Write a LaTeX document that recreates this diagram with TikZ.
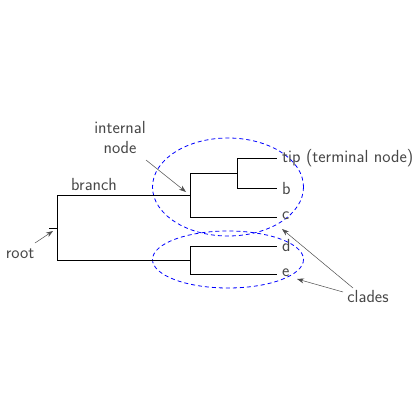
\documentclass[tikz,border=0pt]{standalone}
\usetikzlibrary{arrows.meta}
\begin{document}
\begin{tikzpicture}[x=1pt,y=-1pt,
  tree/.style={line width=1pt,black},
  lbl/.style={font=\fontsize{17.5}{20}\sffamily,text=black!72,inner sep=0pt},
  tiplbl/.style={lbl,anchor=west},
  clade/.style={draw=blue,line width=0.8pt,dash pattern=on 4pt off 3pt},
  pointer/.style={draw=black!70,line width=0.5pt,-{Stealth[length=7pt,width=5pt]}}]
\useasboundingbox (0,0) rectangle (420,420);
% tree coordinates
\coordinate (rootstub) at (49,228);
\coordinate (r) at (57,228);
\coordinate (rt) at (57,195);
\coordinate (rb) at (57,260);
\coordinate (n1) at (190,195);
\coordinate (n2) at (190,260);
\coordinate (n1t) at (190,173);
\coordinate (n1b) at (190,217);
\coordinate (n3) at (237,173);
\coordinate (n3t) at (237,158);
\coordinate (n3b) at (237,188);
\coordinate (n2t) at (190,246);
\coordinate (n2b) at (190,274);
\coordinate (ta) at (277,158);
\coordinate (tb) at (277,188);
\coordinate (tc) at (277,217);
\coordinate (td) at (277,246);
\coordinate (te) at (277,274);
% clades
\draw[clade] (228,187) ellipse [x radius=75.5, y radius=49];
\draw[clade] (228,259.5) ellipse [x radius=75.5, y radius=28.5];
% tree
\draw[tree] (rootstub) -- (r);
\draw[tree] (n1) -- (rt) -- (rb) -- (n2);
\draw[tree] (n1t) -- (n1b);
\draw[tree] (n1t) -- (n3);
\draw[tree] (n1b) -- (tc);
\draw[tree] (n3t) -- (n3b);
\draw[tree] (n3t) -- (ta);
\draw[tree] (n3b) -- (tb);
\draw[tree] (n2t) -- (n2b);
\draw[tree] (n2t) -- (td);
\draw[tree] (n2b) -- (te);
% labels
\node[tiplbl] (la) at (282,158) {tip (terminal node)};
\node[tiplbl] (lb) at (282,188) {b};
\node[tiplbl] (lc) at (282,216) {c};
\node[tiplbl] (ld) at (282,245) {d};
\node[tiplbl] (le) at (282,273) {e};
\node[lbl] (branch) at (94,184) {branch};
\node[lbl,align=center] (internal) at (120,137) {internal\\node};
\node[lbl] (rootl) at (20,254) {root};
\node[lbl] (clades) at (368,296) {clades};
% pointers
\coordinate (pi1) at (146,160);
\coordinate (pi2) at (186,192);
\draw[pointer] (pi1) -- (pi2);
\coordinate (pr1) at (35,243);
\coordinate (pr2) at (53,231);
\draw[pointer] (pr1) -- (pr2);
\coordinate (pc1) at (353,288);
\coordinate (pc2) at (282,229);
\draw[pointer] (pc1) -- (pc2);
\coordinate (pe1) at (343,292);
\coordinate (pe2) at (297,279);
\draw[pointer] (pe1) -- (pe2);
\end{tikzpicture}
\end{document}
